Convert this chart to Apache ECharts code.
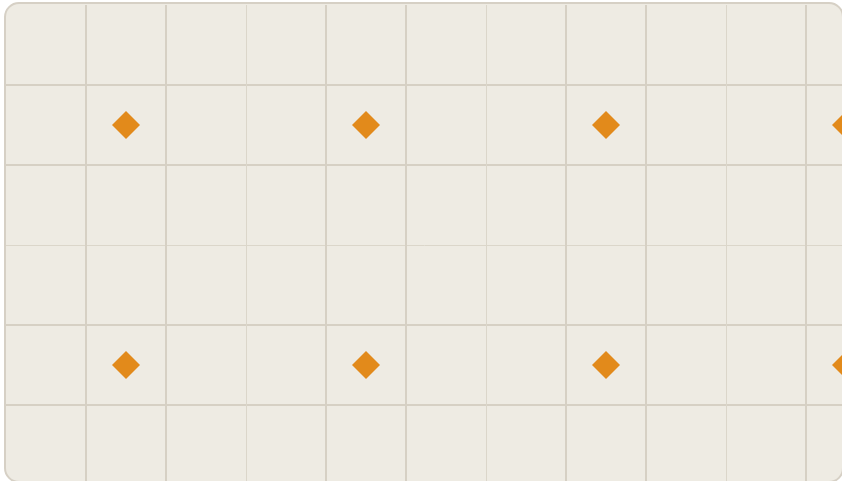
<!DOCTYPE html>
<html>
<head>
<meta charset="utf-8">
<script src="https://cdn.jsdelivr.net/npm/echarts@6/dist/echarts.min.js"></script>
<style>
  html, body { margin: 0; padding: 0; background: #ffffff; }
  #chart { width: 842px; height: 481px; }
</style>
</head>
<body>
<div id="chart"></div>
<script>
var chartDom = document.getElementById('chart');
var myChart = echarts.init(chartDom);
var option;

// grid units: one cell = 80px
const diamondX = [1.5, 4.5, 7.5, 10.5];
const diamondY = [1.5, 4.5];

const panelColor = '#eeebe3';
const borderColor = '#d6d0c5';
const thickLine = '#d6d0c4';
const thinLine = '#dbd6ca';
const diamondColor = '#e28a1b';

var points = [];
diamondY.forEach(function (y) {
  diamondX.forEach(function (x) {
    points.push([x, y]);
  });
});

// every third line is thin, the others thick
const thickColors = ['rgba(0,0,0,0)', thickLine, thickLine];

option = {
  backgroundColor: '#ffffff',
  animation: false,
  graphic: [
    {
      type: 'rect',
      z: -10,
      silent: true,
      shape: { x: 5, y: 3, width: 838, height: 479, r: 14 },
      style: { fill: panelColor }
    },
    {
      type: 'rect',
      z: 100,
      silent: true,
      shape: { x: 5, y: 3, width: 838, height: 479, r: 14 },
      style: { fill: null, stroke: borderColor, lineWidth: 2 }
    }
  ],
  grid: {
    left: 6,
    top: 5,
    width: 880,
    height: 480,
    outerBoundsMode: 'none',
    containLabel: false
  },
  xAxis: [
    {
      type: 'value',
      min: 0,
      max: 11,
      interval: 1,
      axisLine: { show: false },
      axisTick: { show: false },
      axisLabel: { show: false },
      splitLine: { show: true, lineStyle: { color: thickColors, width: 2 } }
    },
    {
      type: 'value',
      position: 'top',
      min: 0,
      max: 11,
      interval: 3,
      axisLine: { show: false },
      axisTick: { show: false },
      axisLabel: { show: false },
      splitLine: { show: true, showMinLine: false, lineStyle: { color: thinLine, width: 1 } }
    }
  ],
  yAxis: [
    {
      type: 'value',
      inverse: true,
      min: 0,
      max: 6,
      interval: 1,
      axisLine: { show: false },
      axisTick: { show: false },
      axisLabel: { show: false },
      splitLine: { show: true, lineStyle: { color: thickColors, width: 2 } }
    },
    {
      type: 'value',
      inverse: true,
      position: 'right',
      min: 0,
      max: 6,
      interval: 3,
      axisLine: { show: false },
      axisTick: { show: false },
      axisLabel: { show: false },
      splitLine: { show: true, showMinLine: false, lineStyle: { color: thinLine, width: 1 } }
    }
  ],
  series: [
    {
      type: 'scatter',
      symbol: 'diamond',
      symbolSize: 28,
      itemStyle: { color: diamondColor, opacity: 1 },
      clip: false,
      data: points
    }
  ]
};

option && myChart.setOption(option);
</script>
</body>
</html>
